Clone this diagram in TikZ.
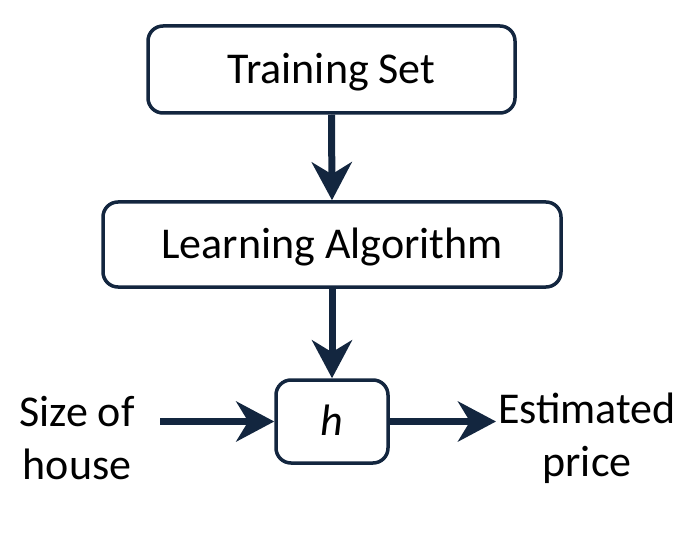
\documentclass[tikz,border=0pt]{standalone}
\usepackage{fontspec}
\setmainfont{Carlito}
\usetikzlibrary{arrows.meta}
\definecolor{navy}{HTML}{13263F}
\begin{document}
\begin{tikzpicture}[x=1pt,y=-1pt,
  box/.style={draw=navy,line width=3.5pt,rounded corners=15pt,fill=white,inner sep=0pt,text height=28pt,text depth=0pt,font=\fontsize{44}{52}\selectfont},
  conn/.style={draw=navy,line width=7pt,-{Stealth[length=38pt,width=40pt,inset=12pt]}},
  lbl/.style={font=\fontsize{44}{53}\selectfont,align=center,inner sep=0pt}]
\useasboundingbox (0,0) rectangle (684,545);
\node[box,minimum width=367pt,minimum height=87pt] (ts) at (331.5,69.5) {Training Set};
\node[box,minimum width=458pt,minimum height=85pt] (la) at (332,244.5) {Learning Algorithm};
\node[box,minimum width=112pt,minimum height=83pt] (h) at (332,421.5) {\itshape h};
\node[lbl] (in) at (77,438) {Size of\\house};
\node[lbl] (out) at (587,438) {Estimated\\price};
\draw[conn] (ts.south) -- (la.north);
\draw[conn] (la.south) -- (h.north);
\draw[conn] (160,421.5) -- (h.west);
\draw[conn] (h.east) -- (496,421.5);
\end{tikzpicture}
\end{document}
